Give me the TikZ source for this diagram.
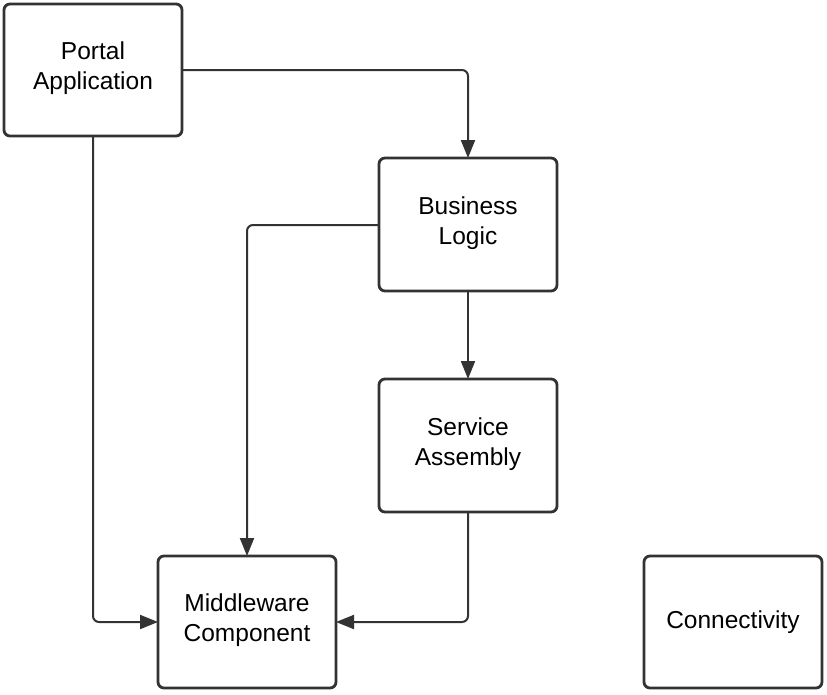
\documentclass[tikz,border=0pt]{standalone}
\usepackage{fontspec}
\setmainfont{Liberation Sans}
\usetikzlibrary{arrows.meta}
\definecolor{ink}{HTML}{333333}
\begin{document}
\begin{tikzpicture}[x=1pt,y=-1pt,
  box/.style={draw=ink, line width=2.8pt, rounded corners=6pt, fill=white},
  lbl/.style={font=\fontsize{24.5}{30}\selectfont, align=center, text=black},
  conn/.style={draw=ink, line width=2pt, rounded corners=6pt, -{Triangle[length=18pt,width=14pt]}}]
\useasboundingbox (0,0) rectangle (827,694);
% boxes
\draw[box] (4,4) rectangle (182,136);
\node[lbl] (portal) at (93,68) {Portal\\Application};
\draw[box] (379,158) rectangle (557,291);
\node[lbl] (biz) at (468,223) {Business\\Logic};
\draw[box] (379,379) rectangle (557,512);
\node[lbl] (svc) at (468,444) {Service\\Assembly};
\draw[box] (158,556) rectangle (336,688);
\node[lbl] (mid) at (247,620) {Middleware\\Component};
\draw[box] (644,556) rectangle (822,688);
\node[lbl] (con) at (733,622) {Connectivity};
% anchor coordinates on box edges
\coordinate (pR) at (182,70);
\coordinate (pB) at (93,136);
\coordinate (bT) at (468,158);
\coordinate (bL) at (379,225);
\coordinate (bB) at (468,291);
\coordinate (sT) at (468,379);
\coordinate (sB) at (468,512);
\coordinate (mT) at (247,556);
\coordinate (mL) at (158,622);
\coordinate (mR) at (336,622);
% connectors
\draw[conn] (pR) -| (bT);
\draw[conn] (pB) |- (mL);
\draw[conn] (bL) -| (mT);
\draw[conn] (bB) -- (sT);
\draw[conn] (sB) |- (mR);
\end{tikzpicture}
\end{document}
